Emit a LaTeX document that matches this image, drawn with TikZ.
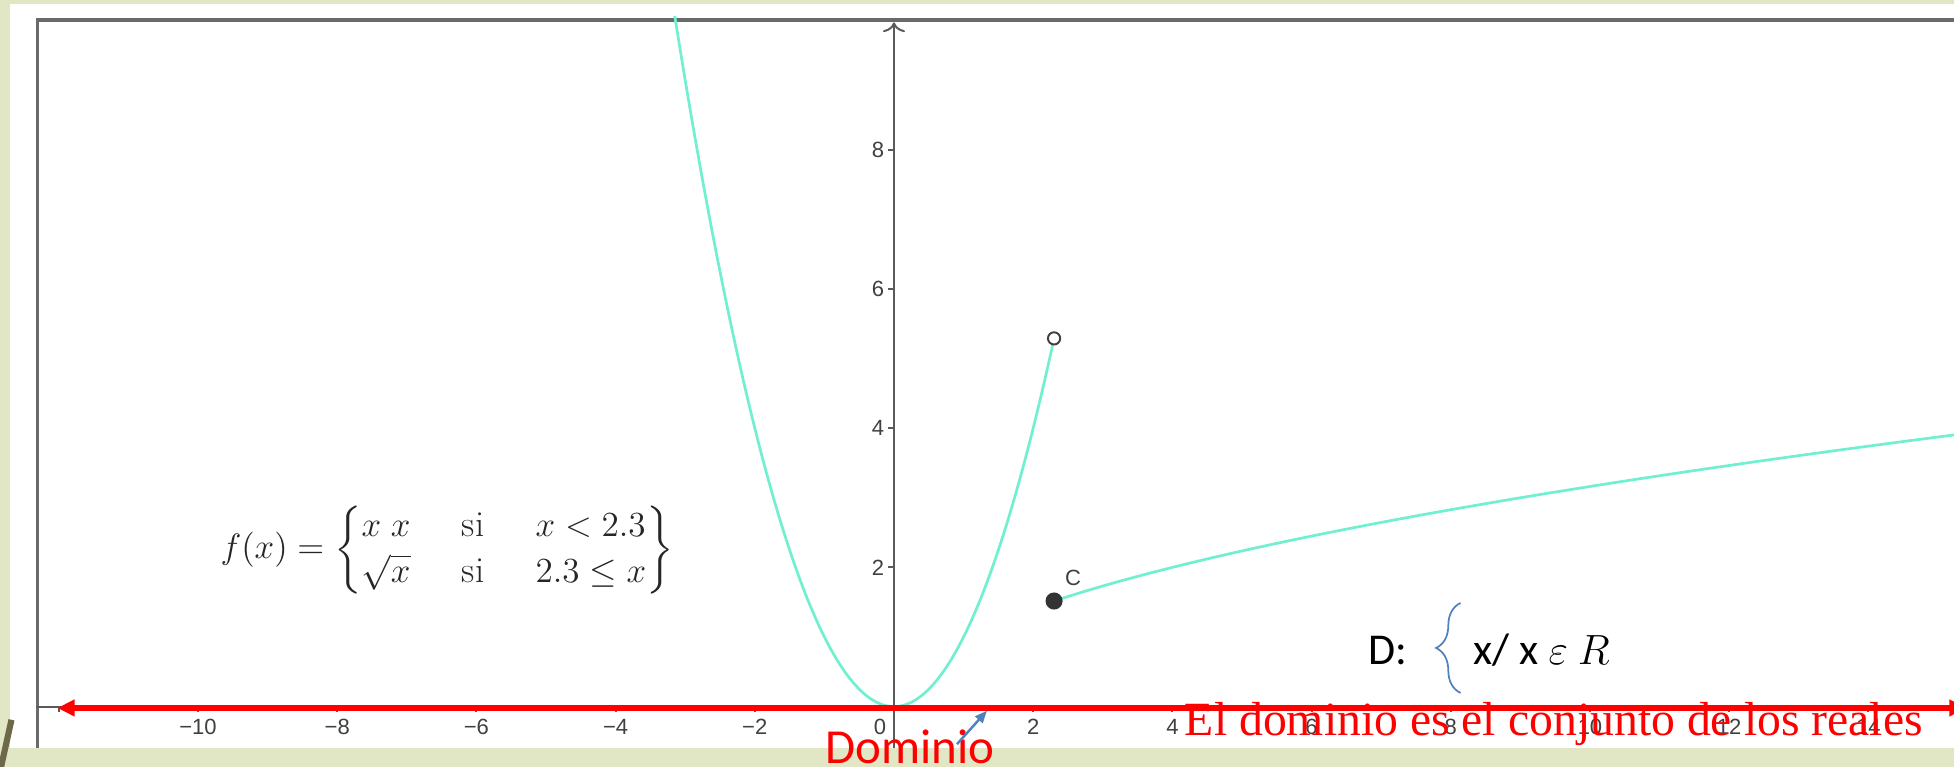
\documentclass[tikz,border=0pt]{standalone}
\usepackage{amsmath,amssymb}
\usepackage{fontspec}
\usepackage{tikz}
\usepackage{xcolor}
\usetikzlibrary{arrows.meta,positioning,decorations.pathreplacing}
\setsansfont{Liberation Sans}
\newfontfamily\timesfont{Liberation Serif}
\newfontfamily\calfont{Carlito}
\definecolor{slidebg}  {HTML}{E1E7C5}
\definecolor{slideolv} {HTML}{6E6748}
\definecolor{frameln}  {HTML}{6A6A6A}
\definecolor{axisgray} {HTML}{5A5A5A}
\definecolor{ticktxt}  {HTML}{404040}
\definecolor{curve}    {HTML}{70F0D0}
\definecolor{domred}   {HTML}{FF0000}
\definecolor{noteblue} {HTML}{4F81BD}
\tikzset{
  ticklbl/.style  ={font=\sffamily\fontsize{9}{10}\selectfont, text=ticktxt,
                    inner sep=1pt},
  axisln/.style   ={draw=axisgray, line width=0.8pt},
  fcurve/.style   ={draw=curve, line width=1.1pt},
  opendot/.style  ={circle, draw=ticktxt, fill=white, line width=0.8pt,
                    inner sep=0pt, minimum size=5pt},
  fulldot/.style  ={circle, fill=ticktxt!80!black, inner sep=0pt,
                    minimum size=7pt},
  ptlbl/.style    ={font=\sffamily\fontsize{9}{10}\selectfont, text=ticktxt,
                    inner sep=0pt},
  formula/.style  ={font=\fontsize{15}{18}\selectfont, text=black!85,
                    inner sep=0pt},
  calnote/.style  ={font=\calfont\fontsize{18}{20}\selectfont, inner sep=0pt},
  domarr/.style   ={{Triangle[length=7pt,width=6.5pt]}-{Triangle[length=7pt,width=6.5pt]},
                    draw=domred, line width=2.2pt},
  domtxt/.style   ={font=\timesfont\fontsize{19.5}{22}\selectfont, text=domred,
                    inner sep=0pt},
  domlbl/.style   ={font=\calfont\fontsize{20}{22}\selectfont, text=domred,
                    inner sep=0pt},
  notearr/.style  ={-{Triangle[length=5pt,width=4pt]}, draw=noteblue,
                    line width=1pt},
  bracefig/.style ={draw=noteblue, line width=0.7pt, decorate,
                    decoration={brace, amplitude=10pt}},
}

\begin{document}
\begin{tikzpicture}[x=1cm,y=1cm]
    \fill[slidebg] (-12.845,-0.867) rectangle (15.23,10.152);
    \useasboundingbox (-12.845,-0.867) rectangle (15.23,10.152);
    \clip (-12.845,-0.867) rectangle (15.23,10.152);
    \fill[white] (-12.70,-0.595) rectangle (15.3,10.09);
    \draw[slideolv, line width=2.5pt] (-12.83,-0.87) -- (-12.68,-0.19);

    \draw[frameln, line width=1.4pt] (-12.31,-0.595) -- (-12.31,9.865) -- (15.3,9.865);

    \draw[axisln] (-12.31,0) -- (15.3,0);
    \draw[axisln, -{To[length=4pt,width=9pt]}] (0,-0.595) -- (0,9.83);
    \foreach \x in {-12,-10,...,14} \draw[axisln] (\x,0) -- (\x,-0.08);
    \foreach \y in {2,4,6,8} {
      \draw[axisln] (0,\y) -- (-0.08,\y);
      \node[ticklbl, anchor=east] (yl\y) at (-0.1,\y) {\y};
    }
    \foreach \x in {-10,-8,-6,-4,-2}
      \node[ticklbl] (xl\x) at (\x,-0.29) {−\the\numexpr-\x\relax};
    \node[ticklbl] (xl0) at (-0.2,-0.29) {0};
    \foreach \x in {2,4,...,14} \node[ticklbl] (xl\x) at (\x,-0.29) {\x};

    \draw[fcurve] plot[domain=-3.15:2.3, samples=120] (\x,{\x*\x});
    \draw[fcurve] plot[domain=2.3:15.3, samples=120] (\x,{sqrt(\x)});
    \node[opendot] (hole) at (2.3,5.29) {};
    \node[fulldot] (C) at (2.3,1.5166) {};
    \node[ptlbl, above right=0.12cm and 0.06cm of C] (Clbl) {C};

    \node[formula] (fdef) at (-6.42,2.25)
      {$f(x)=\left\{\renewcommand{\arraystretch}{1.05}%
        \begin{array}{@{}l@{\hspace{1.4em}}l@{\hspace{1.4em}}l@{}}
        x\;x & \mathrm{si} & x<2.3\\
        \sqrt{x} & \mathrm{si} & 2.3\leq x
       \end{array}\right\}$};

    \node[calnote, anchor=west] (dlbl) at (6.81,0.81) {D:};
    \coordinate (brbot) at (8.14,0.196);
    \coordinate (brtop) at (8.14,1.488);
    \draw[bracefig] (brbot) -- (brtop);
    \node[calnote, anchor=west] (dset) at (8.32,0.81) {x/ x $\varepsilon$ $R$};

    \coordinate (domL) at (-12.02,-0.02);
    \coordinate (domR) at (15.41,-0.02);
    \draw[domarr] (domL) -- (domR);

    \node[domtxt, anchor=base] (domtext) at (9.48,-0.41)
      {El dominio es el conjunto de los reales};
    \node[domlbl, anchor=base] (domword) at (0.23,-0.825) {Dominio};
    \coordinate (domfoot) at (0.905,-0.54);
    \coordinate (domtip) at (1.336,-0.06);
    \draw[notearr] (domfoot) -- (domtip);
  \end{tikzpicture}
\end{document}
